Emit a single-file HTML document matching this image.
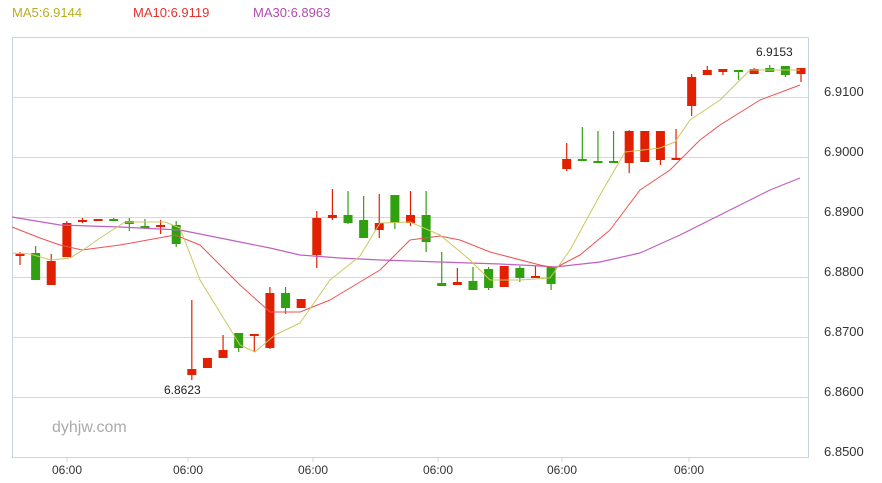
<!DOCTYPE html>
<html><head><meta charset="utf-8"><style>
html,body{margin:0;padding:0;background:#fff;width:882px;height:483px;overflow:hidden}
svg{display:block;font-family:"Liberation Sans",Arial,sans-serif}
</style></head><body>
<svg id="s" width="882" height="483" xmlns="http://www.w3.org/2000/svg">
<text x="12" y="17" font-size="13" fill="#b8b020">MA5:6.9144</text>
<text x="133" y="17" font-size="13" fill="#e8302a">MA10:6.9119</text>
<text x="253" y="17" font-size="13" fill="#b04cb0">MA30:6.8963</text>
<g stroke="#d8d8d8" stroke-width="1">
<line x1="12" y1="97.5" x2="808" y2="97.5"/><line x1="12" y1="157.5" x2="808" y2="157.5"/>
<line x1="12" y1="217.5" x2="808" y2="217.5"/><line x1="12" y1="277.5" x2="808" y2="277.5"/>
<line x1="12" y1="337.5" x2="808" y2="337.5"/><line x1="12" y1="397.5" x2="808" y2="397.5"/>
</g>
<rect x="12.5" y="37.5" width="796" height="420" fill="none" stroke="#c8d4e4"/>
<g font-size="13" fill="#333">
<text x="824" y="96">6.9100</text><text x="824" y="156">6.9000</text><text x="824" y="216">6.8900</text>
<text x="824" y="276">6.8800</text><text x="824" y="336">6.8700</text><text x="824" y="396">6.8600</text>
<text x="824" y="456">6.8500</text>
</g>
<g font-size="12" fill="#333" text-anchor="middle">
<text x="67" y="474">06:00</text><text x="188" y="474">06:00</text><text x="313" y="474">06:00</text>
<text x="438" y="474">06:00</text><text x="562" y="474">06:00</text><text x="689" y="474">06:00</text>
</g>
<g stroke="#c8d4e4"><line x1="67" y1="458" x2="67" y2="462"/><line x1="188" y1="458" x2="188" y2="462"/><line x1="313" y1="458" x2="313" y2="462"/><line x1="438" y1="458" x2="438" y2="462"/><line x1="562" y1="458" x2="562" y2="462"/><line x1="689" y1="458" x2="689" y2="462"/></g>
<text x="52" y="432" font-size="16" fill="#aaa">dyhjw.com</text>
<g id="c"></g>
<polyline fill="none" stroke="#c060c0" stroke-width="1.2" stroke-linejoin="round" points="12,217 60,225 120,227 180,230 230,240 270,248 300,255 340,258 380,260 440,262 500,264 540,266 555,267 600,262 640,253 680,235 720,215 770,190 800,178"/>
<polyline fill="none" stroke="#f05050" stroke-width="1" stroke-linejoin="round" points="12,227 40,238 60,245 82,250 120,245 175,235 200,245 240,285 270,312 300,312 330,300 380,270 410,240 440,236 460,240 490,252 540,265 555,268 580,255 610,230 640,190 670,170 700,140 720,125 760,100 800,85"/>
<polyline fill="none" stroke="#c8c860" stroke-width="1" stroke-linejoin="round" points="12,253 30,254 51,260 70,258 83,250 100,238 125,222 165,222 180,228 200,280 240,345 255,352 275,335 300,323 330,280 360,256 380,223 410,222 440,235 470,260 490,280 520,280 550,278 570,250 600,195 625,152 660,148 675,142 690,120 720,100 740,80 750,70 800,70"/>
<text x="164" y="394" font-size="12" fill="#222">6.8623</text>
<text x="756" y="56" font-size="12" fill="#222">6.9153</text>
</svg>
<script>
var d=[["r",254,256,252,265],["g",253,280,246,280],["r",261,285,254,285],["r",223,257,221,257],["r",220,222,218,223],["r",219,221,219,221],["g",219,220,218,221],["g",221,224,218,231],["g",226,228,219,229],["r",225,226,220,234],["g",225,244,221,247],["r",369,375,300,380],["r",358,368,358,368],["r",350,358,335,358],["g",333,348,333,352],["r",334,336,334,352],["r",293,348,287,349],["g",293,308,287,314],["r",299,308,299,308],["r",218,255,211,268],["r",215,218,189,220],["g",215,223,191,224],["g",220,238,196,238],["r",223,230,194,238],["g",195,223,195,229],["r",215,223,191,226],["g",215,242,191,252],["g",283,286,252,286],["r",282,285,268,285],["g",281,290,267,290],["g",269,288,267,290],["r",266,287,266,287],["g",268,278,266,282],["r",276,277,266,278],["g",267,284,267,290],["r",159,169,143,171],["g",159,160,127,161],["g",161,162,131,162],["g",161,163,131,163],["r",131,163,130,173],["r",131,162,131,162],["r",131,160,131,165],["r",158,159,129,159],["r",77,106,74,116],["r",70,75,66,75],["r",69,72,69,75],["g",70,71,70,80],["r",69,74,68,74],["g",68,72,65,72],["g",66,75,66,77],["r",68,74,68,82]];
var g=document.getElementById("c"),h="";
d.forEach(function(c,i){var x=20+i*15.62,col=c[0]=="r"?"#e02000":"#30a010";
h+='<line x1="'+x+'" x2="'+x+'" y1="'+c[3]+'" y2="'+c[4]+'" stroke="'+col+'" stroke-width="1.2"/>';
h+='<rect x="'+(x-4.5)+'" y="'+c[1]+'" width="9" height="'+Math.max(2,c[2]-c[1])+'" fill="'+col+'"/>';});
g.innerHTML=h;
</script>
</body></html>
